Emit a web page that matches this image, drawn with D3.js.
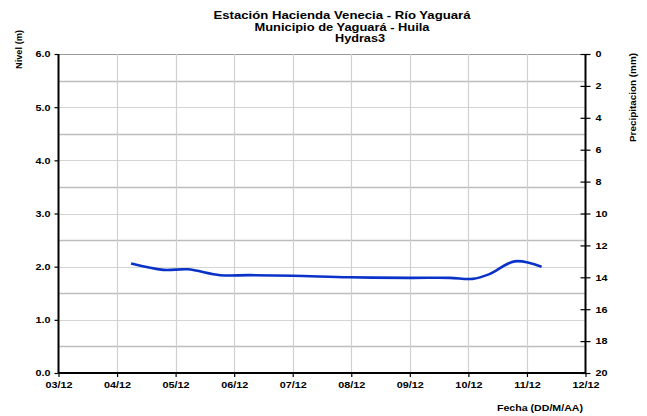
<!DOCTYPE html>
<html>
<head>
<meta charset="utf-8">
<script src="https://cdn.jsdelivr.net/npm/d3@7"></script>
<style>
  body { margin: 0; background: #fff; }
  text { font-family: "Liberation Sans", Arial, sans-serif; font-weight: bold; fill: #000; }
</style>
</head>
<body>
<svg id="chart" width="647" height="416"></svg>
<script>
// tick labels of the date axis (one per month)
var dateLabels = ["03/12", "04/12", "05/12", "06/12", "07/12", "08/12", "09/12", "10/12", "11/12", "12/12"];
// level series: position in months after 03/12, level in m
var levelX = [1.24, 1.79, 2.21, 2.76, 3.27, 4.0, 4.97, 6.0, 6.68, 7.07, 7.36, 7.79, 8.25];
var levelY = [2.06, 1.94, 1.95, 1.84, 1.84, 1.83, 1.80, 1.79, 1.79, 1.77, 1.86, 2.10, 2.00];
var titleLines = ["Estación Hacienda  Venecia - Río  Yaguará", "Municipio  de Yaguará - Huila", "Hydras3"];

var svg = d3.select("#chart");
var plotL = 58.5, plotR = 585.5, plotT = 54, plotB = 373;

var x = d3.scaleLinear().domain([0, dateLabels.length - 1]).range([plotL, plotR]);
var y = d3.scaleLinear().domain([0, 6]).range([plotB, plotT]);
var yr = d3.scaleLinear().domain([0, 20]).range([plotT, plotB]);

// stretch text horizontally, the original looks wider than Arial
function widen(sel, k) {
  sel.each(function() {
    var w = this.getComputedTextLength();
    d3.select(this).attr("textLength", w * k).attr("lengthAdjust", "spacingAndGlyphs");
  });
}

// horizontal grid, every 0.5 m
var gridVals = d3.range(0.5, 6.01, 0.5);
svg.append("g").selectAll("line")
  .data(gridVals)
  .enter().append("line")
    .attr("x1", plotL).attr("x2", plotR)
    .attr("y1", function(d) { return Math.round(y(d)) + 0.5; })
    .attr("y2", function(d) { return Math.round(y(d)) + 0.5; })
    .attr("stroke", function(d) { return d === 6 ? "#999" : (d % 1 === 0 ? "#d4d4d4" : "#bdbdbd"); })
    .attr("stroke-width", function(d) { return d % 1 === 0 ? 1.2 : 1.6; });

// vertical grid at each month
svg.append("g").selectAll("line")
  .data(d3.range(1, dateLabels.length - 1))
  .enter().append("line")
    .attr("x1", function(d) { return Math.round(x(d)) + 0.5; })
    .attr("x2", function(d) { return Math.round(x(d)) + 0.5; })
    .attr("y1", plotT).attr("y2", plotB)
    .attr("stroke", "#d0d0d0")
    .attr("stroke-width", 1.2);

// level line
var pts = levelX.map(function(v, i) { return [v, levelY[i]]; });
var line = d3.line()
  .x(function(d) { return x(d[0]); })
  .y(function(d) { return y(d[1]); })
  .curve(d3.curveCatmullRom.alpha(0.5));

svg.append("path")
  .datum(pts)
  .attr("d", line)
  .attr("fill", "none")
  .attr("stroke", "#0a32c8")
  .attr("stroke-width", 2.6);

// axes
var xAxis = svg.append("g")
  .attr("transform", "translate(0," + plotB + ")")
  .call(d3.axisBottom(x)
    .tickValues(d3.range(dateLabels.length))
    .tickFormat(function(d) { return dateLabels[d]; })
    .tickSize(4).tickPadding(5));

var yAxis = svg.append("g")
  .attr("transform", "translate(" + plotL + ",0)")
  .call(d3.axisLeft(y).ticks(6).tickFormat(d3.format(".1f")).tickSize(4).tickPadding(4));

var yrAxis = svg.append("g")
  .attr("transform", "translate(" + plotR + ",0)")
  .call(d3.axisRight(yr).ticks(10).tickSize(5).tickPadding(5));
yrAxis.selectAll(".tick line").attr("x1", -5);

[xAxis, yAxis, yrAxis].forEach(function(a) {
  a.select(".domain").attr("stroke", "#000").attr("stroke-width", 2);
  a.selectAll(".tick line").attr("stroke", "#000").attr("stroke-width", 1.2);
  a.selectAll("text").style("font-size", "9px").style("font-family", "Liberation Sans, Arial, sans-serif").style("font-weight", "bold");
  widen(a.selectAll("text"), 1.2);
});
xAxis.select(".domain").attr("d", "M" + plotL + ",0H" + plotR);
yAxis.select(".domain").attr("d", "M0," + plotT + "V" + plotB);
yrAxis.select(".domain").attr("d", "M0," + plotT + "V" + plotB);

// titles
var titleLen = [257, 175, 50];
svg.append("g").selectAll("text")
  .data(titleLines)
  .enter().append("text")
    .attr("x", function(d, i) { return i === 2 ? 360 : 342; })
    .attr("y", function(d, i) { return 19 + i * 11.5; })
    .attr("text-anchor", "middle")
    .attr("textLength", function(d, i) { return titleLen[i]; })
    .attr("lengthAdjust", "spacingAndGlyphs")
    .style("font-size", "10.5px")
    .text(function(d) { return d; });

svg.append("text")
  .attr("transform", "translate(22,49.5) rotate(-90)")
  .attr("text-anchor", "middle")
  .attr("textLength", 39)
  .attr("lengthAdjust", "spacingAndGlyphs")
  .style("font-size", "9px")
  .text("Nivel (m)");

svg.append("text")
  .attr("transform", "translate(636,97.5) rotate(-90)")
  .attr("text-anchor", "middle")
  .attr("textLength", 89)
  .attr("lengthAdjust", "spacingAndGlyphs")
  .style("font-size", "9px")
  .text("Precipitacion  (mm)");

svg.append("text")
  .attr("x", 540)
  .attr("y", 411)
  .attr("text-anchor", "middle")
  .attr("textLength", 86)
  .attr("lengthAdjust", "spacingAndGlyphs")
  .style("font-size", "9px")
  .text("Fecha (DD/M/AA)");
</script>
</body>
</html>
